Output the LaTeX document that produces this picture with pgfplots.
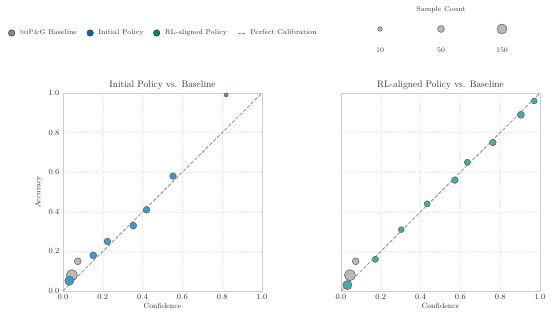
\documentclass[border=0pt]{standalone}
\usepackage{pgfplots}
\pgfplotsset{compat=1.18}
\definecolor{frameGray}{HTML}{CCCCCC}
\definecolor{gridGray}{HTML}{E3E3E3}
\definecolor{inkGray}{HTML}{333333}
\definecolor{edgeGray}{HTML}{5A5A5A}
\definecolor{baseFill}{HTML}{B9B9B9}
\definecolor{initFill}{HTML}{3D9BD0}
\definecolor{rlFill}{HTML}{3FB1A2}
\definecolor{baseLeg}{HTML}{8A8A8A}
\definecolor{initLeg}{HTML}{0069AE}
\definecolor{rlLeg}{HTML}{00876F}
\definecolor{diagGray}{HTML}{8C8C8C}

\pgfplotstableread{
conf acc n
0.074 0.15 50
0.045 0.08 200
}\baseline

\pgfplotstableread{
conf acc n
0.032 0.052 120
0.152 0.18 50
0.223 0.25 45
0.353 0.33 50
0.420 0.41 45
0.553 0.58 45
0.820 0.99 6
}\initial

\pgfplotstableread{
conf acc n
0.032 0.03 120
0.173 0.16 35
0.303 0.31 30
0.433 0.44 35
0.572 0.56 45
0.635 0.65 35
0.763 0.75 45
0.904 0.89 55
0.971 0.96 30
}\rlaligned

\pgfplotstableread{
pos y n
0 0 10
1 0 50
2 0 150
}\sizes

\begin{document}
\begin{tikzpicture}
\pgfplotsset{
  calib/.style={
    scale only axis,
    width=199bp, height=198bp,
    xmin=0, xmax=1, ymin=0, ymax=1,
    xtick={0,0.2,0.4,0.6,0.8,1.0},
    ytick={0,0.2,0.4,0.6,0.8,1.0},
    xticklabel style={/pgf/number format/.cd, fixed, fixed zerofill, precision=1},
    yticklabel style={/pgf/number format/.cd, fixed, fixed zerofill, precision=1},
    tick style={draw=none},
    axis line style={draw=frameGray, line width=0.9bp},
    grid=major,
    major grid style={draw=gridGray, dotted, line width=0.5bp},
    tick label style={font=\fontsize{8}{9}\selectfont, text=inkGray},
    label style={font=\fontsize{7.5}{9}\selectfont, text=inkGray},
    title style={font=\fontsize{9.5}{11}\selectfont, text=inkGray, yshift=-6bp},
    xlabel={Confidence},
    xlabel style={yshift=3bp},
    clip=false,
  },
  dots/.style 2 args={
    only marks, mark=*, forget plot,
    scatter,
    scatter/use mapped color={draw=#1, fill=#2},
    mark options={line width=0.5bp},
    visualization depends on={1.3+0.3*sqrt(\thisrow{n}) \as \msize},
    scatter/@pre marker code/.append style={/tikz/mark size=\msize},
  },
  diag/.style={draw=diagGray, line width=0.8bp, dash pattern=on 3.5bp off 1.8bp, forget plot},
  diagleg/.style={legend image code/.code={\draw[diagGray, line width=0.9bp, dash pattern=on 3bp off 1.5bp] (0cm,0cm) -- (0.26cm,0cm);}},
}
\path[use as bounding box] (-63bp,-30bp) rectangle (492bp,291bp);

\begin{axis}[
  calib,
  title={Initial Policy vs. Baseline},
  ylabel={Accuracy},
  legend style={
    at={(-0.29,1.303)}, anchor=west,
    legend columns=4, draw=none, fill=none,
    font=\fontsize{7}{8}\selectfont, text=inkGray,
    /tikz/every odd column/.append style={column sep=3bp},
    /tikz/every even column/.append style={column sep=8bp},
  },
]
  \addlegendimage{only marks, mark=*, mark size=3.2bp, draw=black!80, fill=baseLeg, mark options={line width=0.5bp}}
  \addlegendentry{\textsc{noP\&G} Baseline}
  \addlegendimage{only marks, mark=*, mark size=3.2bp, draw=black!80, fill=initLeg, mark options={line width=0.5bp}}
  \addlegendentry{Initial Policy}
  \addlegendimage{only marks, mark=*, mark size=3.2bp, draw=black!80, fill=rlLeg, mark options={line width=0.5bp}}
  \addlegendentry{RL-aligned Policy}
  \addlegendimage{diagleg}
  \addlegendentry{Perfect Calibration}

  \addplot[diag] coordinates {(0,0) (1,1)};
  \addplot[dots={edgeGray}{baseFill}] table[x=conf, y=acc] {\baseline};
  \addplot[dots={edgeGray}{initFill}] table[x=conf, y=acc] {\initial};
\end{axis}

\begin{axis}[
  calib,
  at={(278bp,0bp)}, anchor=south west,
  title={RL-aligned Policy vs. Baseline},
  yticklabels={},
]
  \addplot[diag] coordinates {(0,0) (1,1)};
  \addplot[dots={edgeGray}{baseFill}] table[x=conf, y=acc] {\baseline};
  \addplot[dots={edgeGray}{rlFill}] table[x=conf, y=acc] {\rlaligned};
\end{axis}

\begin{axis}[
  scale only axis, hide axis,
  width=122bp, height=20bp,
  xmin=0, xmax=2, ymin=-1, ymax=1,
  at={(317bp,252bp)}, anchor=south west,
  clip=false,
]
  \addplot[dots={edgeGray}{baseFill}] table[x=pos, y=y] {\sizes};
  \node[font=\fontsize{7}{8}\selectfont, text=inkGray] at (axis cs:1,1.9) {Sample Count};
  \node[font=\fontsize{7}{8}\selectfont, text=inkGray] at (axis cs:0,-2.1) {10};
  \node[font=\fontsize{7}{8}\selectfont, text=inkGray] at (axis cs:1,-2.1) {50};
  \node[font=\fontsize{7}{8}\selectfont, text=inkGray] at (axis cs:2,-2.1) {150};
\end{axis}
\end{tikzpicture}
\end{document}
